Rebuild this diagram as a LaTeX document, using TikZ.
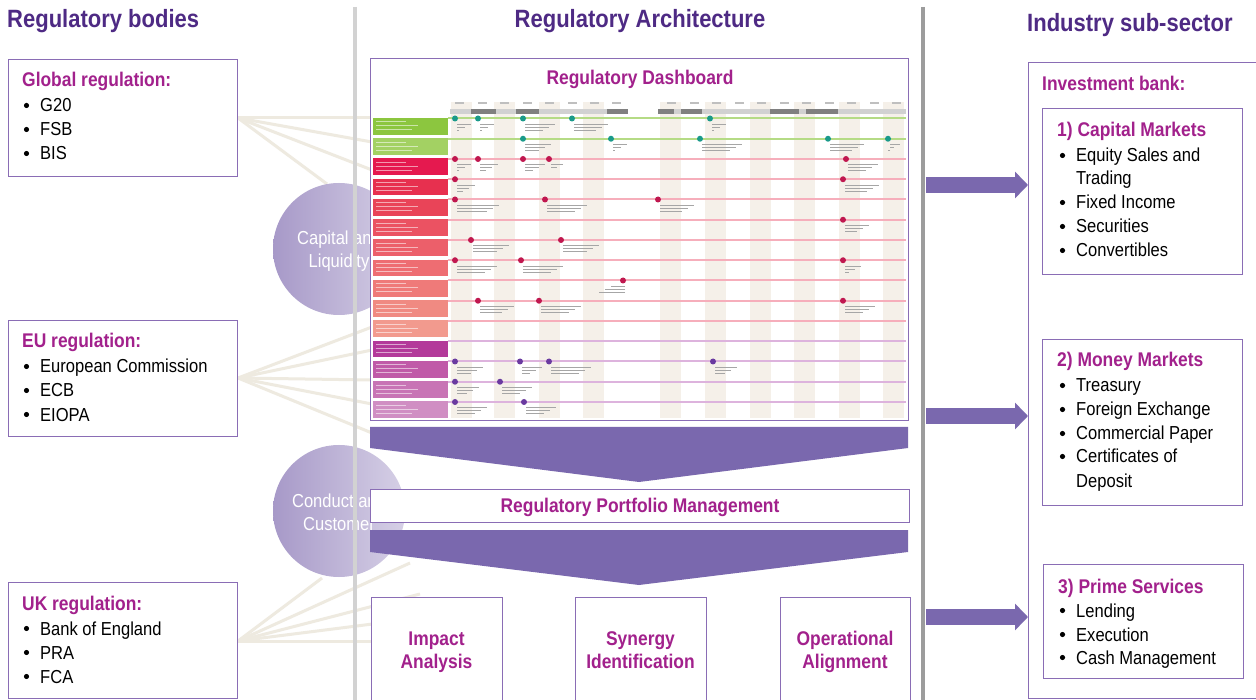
\documentclass[tikz,border=0pt]{standalone}
\usepackage{fontspec}
\setmainfont[FakeStretch=0.88]{Liberation Sans}
\usetikzlibrary{arrows.meta}
\definecolor{ttlc}{HTML}{4E2A84}
\definecolor{mag}{HTML}{A2218C}
\definecolor{bord}{HTML}{8A6DB5}
\definecolor{arr}{HTML}{7A68AE}
\definecolor{fan}{HTML}{EEEAE0}
\definecolor{circL}{HTML}{A799C8}
\definecolor{circR}{HTML}{D6D0E6}
\definecolor{vla}{HTML}{D2D2D2}
\definecolor{vlb}{HTML}{9C9C9C}
\definecolor{stripe}{HTML}{F5F0E9}
\definecolor{rg0}{HTML}{8CC63F}
\definecolor{rg1}{HTML}{A3D163}
\definecolor{rr2}{HTML}{E5194F}
\definecolor{rr3}{HTML}{E7304F}
\definecolor{rr4}{HTML}{E94458}
\definecolor{rr5}{HTML}{EB5262}
\definecolor{rr6}{HTML}{EC5F6A}
\definecolor{rr7}{HTML}{EE6D72}
\definecolor{rr8}{HTML}{EF7A79}
\definecolor{rr9}{HTML}{F08A82}
\definecolor{rr10}{HTML}{F29A8E}
\definecolor{rp11}{HTML}{B33A9A}
\definecolor{rp12}{HTML}{C05AA8}
\definecolor{rp13}{HTML}{C874B5}
\definecolor{rp14}{HTML}{D08EC3}
\definecolor{lg}{HTML}{B5DB85}
\definecolor{lr}{HTML}{F6AEBB}
\definecolor{lp}{HTML}{DDB3DD}
\definecolor{mg}{HTML}{1A9A8A}
\definecolor{mr}{HTML}{C0174F}
\definecolor{mp}{HTML}{6A3AA0}
\newcommand\headfont{\bfseries\fontsize{19.8}{24}\selectfont}
\newcommand\bodyfont{\fontsize{18.8}{24}\selectfont}
\newcommand\titlefont{\bfseries\fontsize{25}{30}\selectfont}
\newcommand\bitem[4]{%
  \fill ({#2+4.5},{#3-6.5}) circle (2.6pt);
  \node[body] (#1) at ({#2+18},#3) {#4};}
\newcommand\mrk[4]{%
  \fill[#3] (#1,{118.5+20.25*#2}) circle (3pt);
  \foreach \k in {0,1,2}
    {\draw[black!35, line width=1pt] ({#1+2},{118.5+20.25*#2+6+3*\k}) -- ++({#4-6*\k},0);}}
\begin{document}
\begin{tikzpicture}[x=1pt,y=-1pt,
  box/.style={draw=bord, line width=1.4pt, fill=white, inner sep=0pt, anchor=north west},
  head/.style={text=mag, font=\headfont, anchor=base west, inner sep=0pt},
  body/.style={text=black, font=\bodyfont, anchor=base west, inner sep=0pt},
  ttl/.style={text=ttlc, font=\titlefont, inner sep=0pt},
  ctr/.style={text=mag, font=\headfont, anchor=base, inner sep=0pt},
  ctext/.style={text=white, font=\bodyfont, anchor=base, inner sep=0pt},
  fanline/.style={draw=fan, line width=3pt},
  bigarrow/.style={draw=arr, line width=16pt, -{Triangle[length=13pt 0 0, width=26pt 0 0]}},
  chev/.style={fill=arr}]
\useasboundingbox (0,0) rectangle (1256,700);
\fill[white] (0,0) rectangle (1256,700);

% titles
\node[ttl, anchor=base west] (t1) at (7,28) {Regulatory bodies};
\node[ttl, anchor=base] (t2) at (640,28) {Regulatory Architecture};
\node[ttl, anchor=base west] (t3) at (1027,32) {Industry sub-sector};

% fan lines
\coordinate (fg) at (238,118);
\coordinate (fe) at (238,378);
\coordinate (fu) at (238,641);
\foreach \p in {(372,118),(372,142),(372,170),(327,184)} {\draw[fanline] (fg) -- \p;}
\foreach \p in {(372,327),(372,350),(372,380),(372,404),(372,433)} {\draw[fanline] (fe) -- \p;}
\foreach \p in {(322,578),(410,563),(420,594),(420,618),(372,641)} {\draw[fanline] (fu) -- \p;}

% circles
\node[circle, minimum size=132pt, inner sep=0pt, left color=circL, right color=circR] (cc1) at (339,249) {};
\node[circle, minimum size=132pt, inner sep=0pt, left color=circL, right color=circR] (cc2) at (339,511) {};
\node[ctext] (cap1) at (339,245) {Capital and};
\node[ctext] (cap2) at (339,268) {Liquidity};
\node[ctext] (con1) at (339,507) {Conduct and};
\node[ctext] (con2) at (339,530) {Customer};

% vertical separators
\draw[vla, line width=4pt] (355,7) -- (355,702);
\draw[vlb, line width=4pt] (923,7) -- (923,702);

% left boxes
\node[box, minimum width=229pt, minimum height=117pt] (glob) at (8,59) {};
\node[head] (globh) at (22,87) {Global regulation:};
\bitem{g1}{22}{112}{G20}
\bitem{g2}{22}{136}{FSB}
\bitem{g3}{22}{160}{BIS}

\node[box, minimum width=229pt, minimum height=116pt] (eu) at (8,320) {};
\node[head] (euh) at (22,348) {EU regulation:};
\bitem{e1}{22}{373}{European Commission}
\bitem{e2}{22}{397}{ECB}
\bitem{e3}{22}{421}{EIOPA}

\node[box, minimum width=229pt, minimum height=116pt] (uk) at (8,582) {};
\node[head] (ukh) at (22,610) {UK regulation:};
\bitem{u1}{22}{635}{Bank of England}
\bitem{u2}{22}{659}{PRA}
\bitem{u3}{22}{683}{FCA}

% dashboard
\node[box, minimum width=538pt, minimum height=362pt] (dash) at (370,58) {};
\node[ctr] (dasht) at (640,85) {Regulatory Dashboard};
\foreach \a in {451,494,539,583,660,705,750,794,839,883}
  {\fill[stripe] (\a,102) rectangle ++(21,316);}
\foreach \a in {455,478,500,523,545,568,590,612,667,690,712,735,757,780,802,825,847,870,892}
  {\fill[black!25] (\a,102) rectangle ++(9,1.6);}
\fill[black!18] (450,109) rectangle (628,114);
\fill[black!18] (658,109) rectangle (906,114);
\foreach \a/\b in {471/496,516/539,607/628,658/674,681/702,770/799,806/838}
  {\fill[black!50] (\a,109) rectangle (\b,114);}
\foreach \i/\c/\l in {0/rg0/lg,1/rg1/lg,2/rr2/lr,3/rr3/lr,4/rr4/lr,5/rr5/lr,6/rr6/lr,7/rr7/lr,8/rr8/lr,9/rr9/lr,10/rr10/lr,11/rp11/lp,12/rp12/lp,13/rp13/lp,14/rp14/lp}{
  \fill[\c] (373,{118+20.25*\i}) rectangle ++(75,16.7);
  \draw[white, opacity=.55, line width=1pt] (376,{122+20.25*\i}) -- ++(30,0);
  \draw[white, opacity=.55, line width=1pt] (376,{126+20.25*\i}) -- ++(42,0);
  \draw[white, opacity=.55, line width=1pt] (376,{130+20.25*\i}) -- ++(36,0);
  \draw[\l, line width=2pt] (448,{118.5+20.25*\i}) -- (906,{118.5+20.25*\i});
}
\foreach \x/\w in {455/14,478/14,523/30,572/34,710/14} {\mrk{\x}{0}{mg}{\w}}
\foreach \x/\w in {523/26,611/14,700/40,828/34,888/10} {\mrk{\x}{1}{mg}{\w}}
\foreach \x/\w in {455/14,478/18,523/20,549/12,846/30} {\mrk{\x}{2}{mr}{\w}}
\foreach \x/\w in {455/18,843/34} {\mrk{\x}{3}{mr}{\w}}
\foreach \x/\w in {455/42,545/40,658/34} {\mrk{\x}{4}{mr}{\w}}
\foreach \x/\w in {843/24} {\mrk{\x}{5}{mr}{\w}}
\foreach \x/\w in {471/36,561/36} {\mrk{\x}{6}{mr}{\w}}
\foreach \x/\w in {455/40,521/40,843/16} {\mrk{\x}{7}{mr}{\w}}
\foreach \x/\w in {623/-14} {\mrk{\x}{8}{mr}{\w}}
\foreach \x/\w in {478/34,539/40,843/30} {\mrk{\x}{9}{mr}{\w}}
\foreach \x/\w in {455/26,520/20,549/40,713/22} {\mrk{\x}{12}{mp}{\w}}
\foreach \x/\w in {455/22,500/30} {\mrk{\x}{13}{mp}{\w}}
\foreach \x/\w in {455/30,524/30} {\mrk{\x}{14}{mp}{\w}}

% chevrons and portfolio
\fill[chev] (370,427) -- (908,427) -- (908,448) -- (639,482) -- (370,448) -- cycle;
\node[box, minimum width=539pt, minimum height=33pt] (port) at (370,489) {};
\node[ctr] (portt) at (640,512) {Regulatory Portfolio Management};
\fill[chev] (370,530) -- (908,530) -- (908,552) -- (639,585) -- (370,552) -- cycle;

% bottom boxes
\node[box, minimum width=131pt, minimum height=115pt] (imp) at (371,597) {};
\node[box, minimum width=131pt, minimum height=115pt] (syn) at (575,597) {};
\node[box, minimum width=130pt, minimum height=115pt] (ope) at (780,597) {};
\node[ctr] (imp1) at (436.5,645) {Impact};
\node[ctr] (imp2) at (436.5,668) {Analysis};
\node[ctr] (syn1) at (640.5,645) {Synergy};
\node[ctr] (syn2) at (640.5,668) {Identification};
\node[ctr] (ope1) at (845,645) {Operational};
\node[ctr] (ope2) at (845,668) {Alignment};

% right side
\node[box, minimum width=250pt, minimum height=636pt] (ib) at (1028,62) {};
\node[head] (ibh) at (1042,91) {Investment bank:};

\node[box, minimum width=200pt, minimum height=166pt] (cm) at (1042,108) {};
\node[head] (cmh) at (1057,137) {1) Capital Markets};
\bitem{c1}{1058}{162}{Equity Sales and}
\node[body] (c1b) at (1076,185) {Trading};
\bitem{c2}{1058}{209}{Fixed Income}
\bitem{c3}{1058}{233}{Securities}
\bitem{c4}{1058}{257}{Convertibles}

\node[box, minimum width=200pt, minimum height=166pt] (mm) at (1042,339) {};
\node[head] (mmh) at (1057,367) {2) Money Markets};
\bitem{m1}{1058}{392}{Treasury}
\bitem{m2}{1058}{416}{Foreign Exchange}
\bitem{m3}{1058}{440}{Commercial Paper}
\bitem{m4}{1058}{463}{Certificates of}
\node[body] (m4b) at (1076,487) {Deposit};

\node[box, minimum width=200pt, minimum height=114pt] (ps) at (1043,564) {};
\node[head] (psh) at (1058,593) {3) Prime Services};
\bitem{p1}{1058}{617}{Lending}
\bitem{p2}{1058}{641}{Execution}
\bitem{p3}{1058}{664}{Cash Management}

% arrows to industry
\coordinate (a1) at (926,185);
\coordinate (a2) at (926,416);
\coordinate (a3) at (926,617);
\draw[bigarrow] (a1) -- (a1 -| ib.west);
\draw[bigarrow] (a2) -- (a2 -| ib.west);
\draw[bigarrow] (a3) -- (a3 -| ib.west);
\end{tikzpicture}
\end{document}
